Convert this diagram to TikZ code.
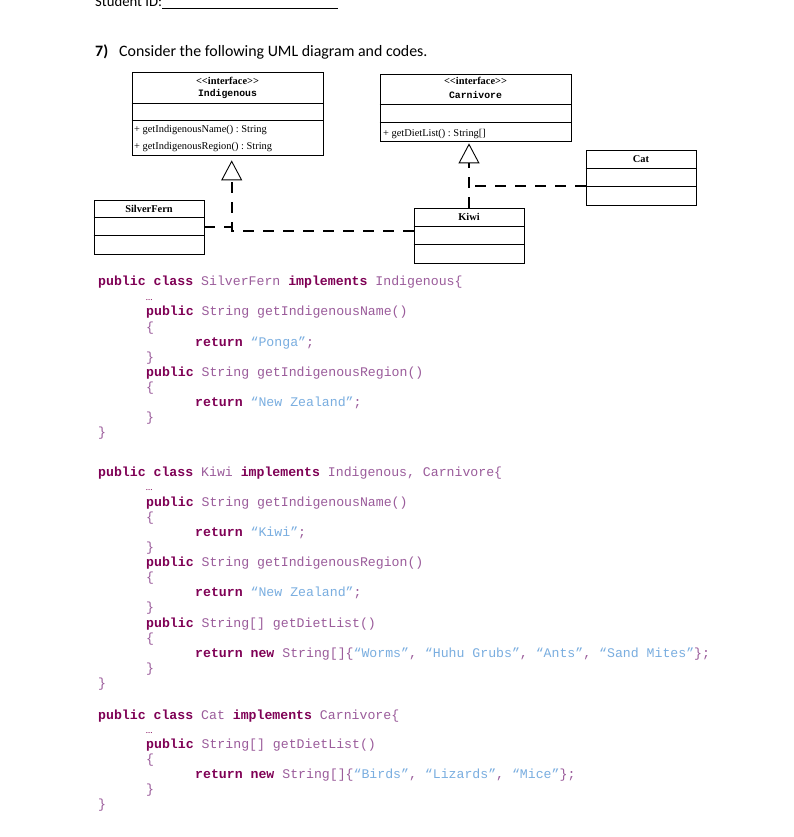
\documentclass[tikz,border=0pt]{standalone}
\usepackage{fontspec}
\setmainfont{Carlito}
\newfontfamily\codefont{Liberation Mono}
\newfontfamily\umlfont{Liberation Serif}
\usetikzlibrary{arrows.meta}
\definecolor{kwcol}{HTML}{7F0055}
\definecolor{idcol}{HTML}{9B5C9B}
\definecolor{strcol}{HTML}{7AAEE0}
\newcommand\ckw[1]{{\bfseries\color{kwcol}#1}}
\newcommand\cst[1]{{\color{strcol}#1}}
\tikzset{
  code/.style={anchor=base west, inner sep=0pt, text=idcol,
    font=\codefont\fontsize{13.2}{15}\selectfont},
  dots/.style={anchor=base west, inner sep=0pt, text=kwcol,
    font=\fontsize{9}{11}\selectfont},
  umlbox/.style={draw, line width=0.8pt, inner sep=0pt},
  umltxt/.style={inner sep=0pt, font=\umlfont\fontsize{10.4}{12}\selectfont},
  umlname/.style={inner sep=0pt, font=\umlfont\bfseries\fontsize{10.4}{12}\selectfont},
  umlmono/.style={inner sep=0pt, font=\codefont\bfseries\fontsize{9.8}{12}\selectfont},
  divider/.style={line width=0.8pt},
  conn/.style={line width=2.4pt, dash pattern=on 11pt off 9pt},
  realize/.style={conn, -{Triangle[open, length=20pt, width=21pt, line width=0.9pt]}}
}
\begin{document}
\frenchspacing
\begin{tikzpicture}[x=1pt,y=-1pt]
\useasboundingbox (0,0) rectangle (793,837);
\fill[white] (0,0) rectangle (793,837);

% header
\node[anchor=base west, inner sep=0pt, font=\fontsize{14.7}{17}\selectfont] (sid) at (95,6.5) {Student ID:};
\draw[line width=0.9pt] (sid.base east) ++(0,2.2) coordinate (ul) -- ++(176,0);
\node[anchor=base west, inner sep=0pt, font=\bfseries\fontsize{15.9}{18}\selectfont] (qn) at (95,56.7) {7)};
\node[anchor=base west, inner sep=0pt, font=\fontsize{15.9}{18}\selectfont] (qt) at (119,56.7) {Consider the following UML diagram and codes.};

% UML boxes
\node[umlbox, minimum width=191pt, minimum height=83.4pt] (Ind) at (227.5,114) {};
\draw[divider] (Ind.west |- 0,103) -- (Ind.east |- 0,103);
\draw[divider] (Ind.west |- 0,120) -- (Ind.east |- 0,120);
\node[umlname] (indst) at (227.5,81) {<<interface>>};
\node[umlmono] (indnm) at (227.5,93.7) {Indigenous};
\node[umltxt, anchor=west] (indm1) at (134,130) {+ getIndigenousName() : String};
\node[umltxt, anchor=west] (indm2) at (134,147) {+ getIndigenousRegion() : String};

\node[umlbox, minimum width=191pt, minimum height=67pt] (Carn) at (475.5,107.5) {};
\draw[divider] (Carn.west |- 0,104) -- (Carn.east |- 0,104);
\draw[divider] (Carn.west |- 0,122) -- (Carn.east |- 0,122);
\node[umlname] (carst) at (475.5,81) {<<interface>>};
\node[umlmono] (carnm) at (475.5,95) {Carnivore};
\node[umltxt, anchor=west] (carm1) at (383,134) {+ getDietList() : String[]};

\node[umlbox, minimum width=110pt, minimum height=54.3pt] (SF) at (149,227.2) {};
\draw[divider] (SF.west |- 0,217.7) -- (SF.east |- 0,217.7);
\draw[divider] (SF.west |- 0,235) -- (SF.east |- 0,235);
\node[umlname] (sfnm) at (149,209) {SilverFern};

\node[umlbox, minimum width=110pt, minimum height=55pt] (Kiwi) at (469,235.5) {};
\draw[divider] (Kiwi.west |- 0,226) -- (Kiwi.east |- 0,226);
\draw[divider] (Kiwi.west |- 0,244) -- (Kiwi.east |- 0,244);
\node[umlname] (kinm) at (469,217) {Kiwi};

\node[umlbox, minimum width=110pt, minimum height=55pt] (Cat) at (641,177.5) {};
\draw[divider] (Cat.west |- 0,168) -- (Cat.east |- 0,168);
\draw[divider] (Cat.west |- 0,186) -- (Cat.east |- 0,186);
\node[umlname] (catnm) at (641,159) {Cat};

% connectors
\coordinate (ij) at (231.7,230.7);
\coordinate (cj) at (469,185.7);
\draw[realize, shorten >=4.3pt] (Kiwi.west |- ij) -- (ij) -- (ij |- Ind.south);
\draw[conn] (SF.east) -- (SF.east -| ij);
\draw[realize, shorten >=2pt] (Kiwi.north) -- (Kiwi.north |- Carn.south);
\draw[conn] (Cat.west |- cj) -- (cj);

% SilverFern code
\node[code] (s1) at (98,285.7) {\ckw{public class} SilverFern \ckw{implements} Indigenous\{};
\node[dots] (s2) at (146,300) {…};
\node[code] (s3) at (146,315.9) {\ckw{public} String getIndigenousName()};
\node[code] (s4) at (146,331) {\{};
\node[code] (s5) at (195,346.1) {\ckw{return} \cst{“Ponga”};};
\node[code] (s6) at (146,361.2) {\}};
\node[code] (s7) at (146,376.3) {\ckw{public} String getIndigenousRegion()};
\node[code] (s8) at (146,391.4) {\{};
\node[code] (s9) at (195,406.5) {\ckw{return} \cst{“New Zealand”};};
\node[code] (s10) at (146,421.6) {\}};
\node[code] (s11) at (98,436.7) {\}};

% Kiwi code
\node[code] (k1) at (98,476) {\ckw{public class} Kiwi \ckw{implements} Indigenous, Carnivore\{};
\node[dots] (k2) at (146,490.3) {…};
\node[code] (k3) at (146,506.2) {\ckw{public} String getIndigenousName()};
\node[code] (k4) at (146,521.3) {\{};
\node[code] (k5) at (195,536.4) {\ckw{return} \cst{“Kiwi”};};
\node[code] (k6) at (146,551.5) {\}};
\node[code] (k7) at (146,566.6) {\ckw{public} String getIndigenousRegion()};
\node[code] (k8) at (146,581.7) {\{};
\node[code] (k9) at (195,596.8) {\ckw{return} \cst{“New Zealand”};};
\node[code] (k10) at (146,611.9) {\}};
\node[code] (k11) at (146,627) {\ckw{public} String[] getDietList()};
\node[code] (k12) at (146,642.1) {\{};
\node[code] (k13) at (195,657.2) {\ckw{return new} String[]\{\cst{“Worms”}, \cst{“Huhu Grubs”}, \cst{“Ants”}, \cst{“Sand Mites”}\};};
\node[code] (k14) at (146,672.3) {\}};
\node[code] (k15) at (98,687.4) {\}};

% Cat code
\node[code] (c1) at (98,719) {\ckw{public class} Cat \ckw{implements} Carnivore\{};
\node[dots] (c2) at (146,733.3) {…};
\node[code] (c3) at (146,748.8) {\ckw{public} String[] getDietList()};
\node[code] (c4) at (146,763.7) {\{};
\node[code] (c5) at (195,778.6) {\ckw{return new} String[]\{\cst{“Birds”}, \cst{“Lizards”}, \cst{“Mice”}\};};
\node[code] (c6) at (146,793.5) {\}};
\node[code] (c7) at (98,808.4) {\}};
\end{tikzpicture}
\end{document}
